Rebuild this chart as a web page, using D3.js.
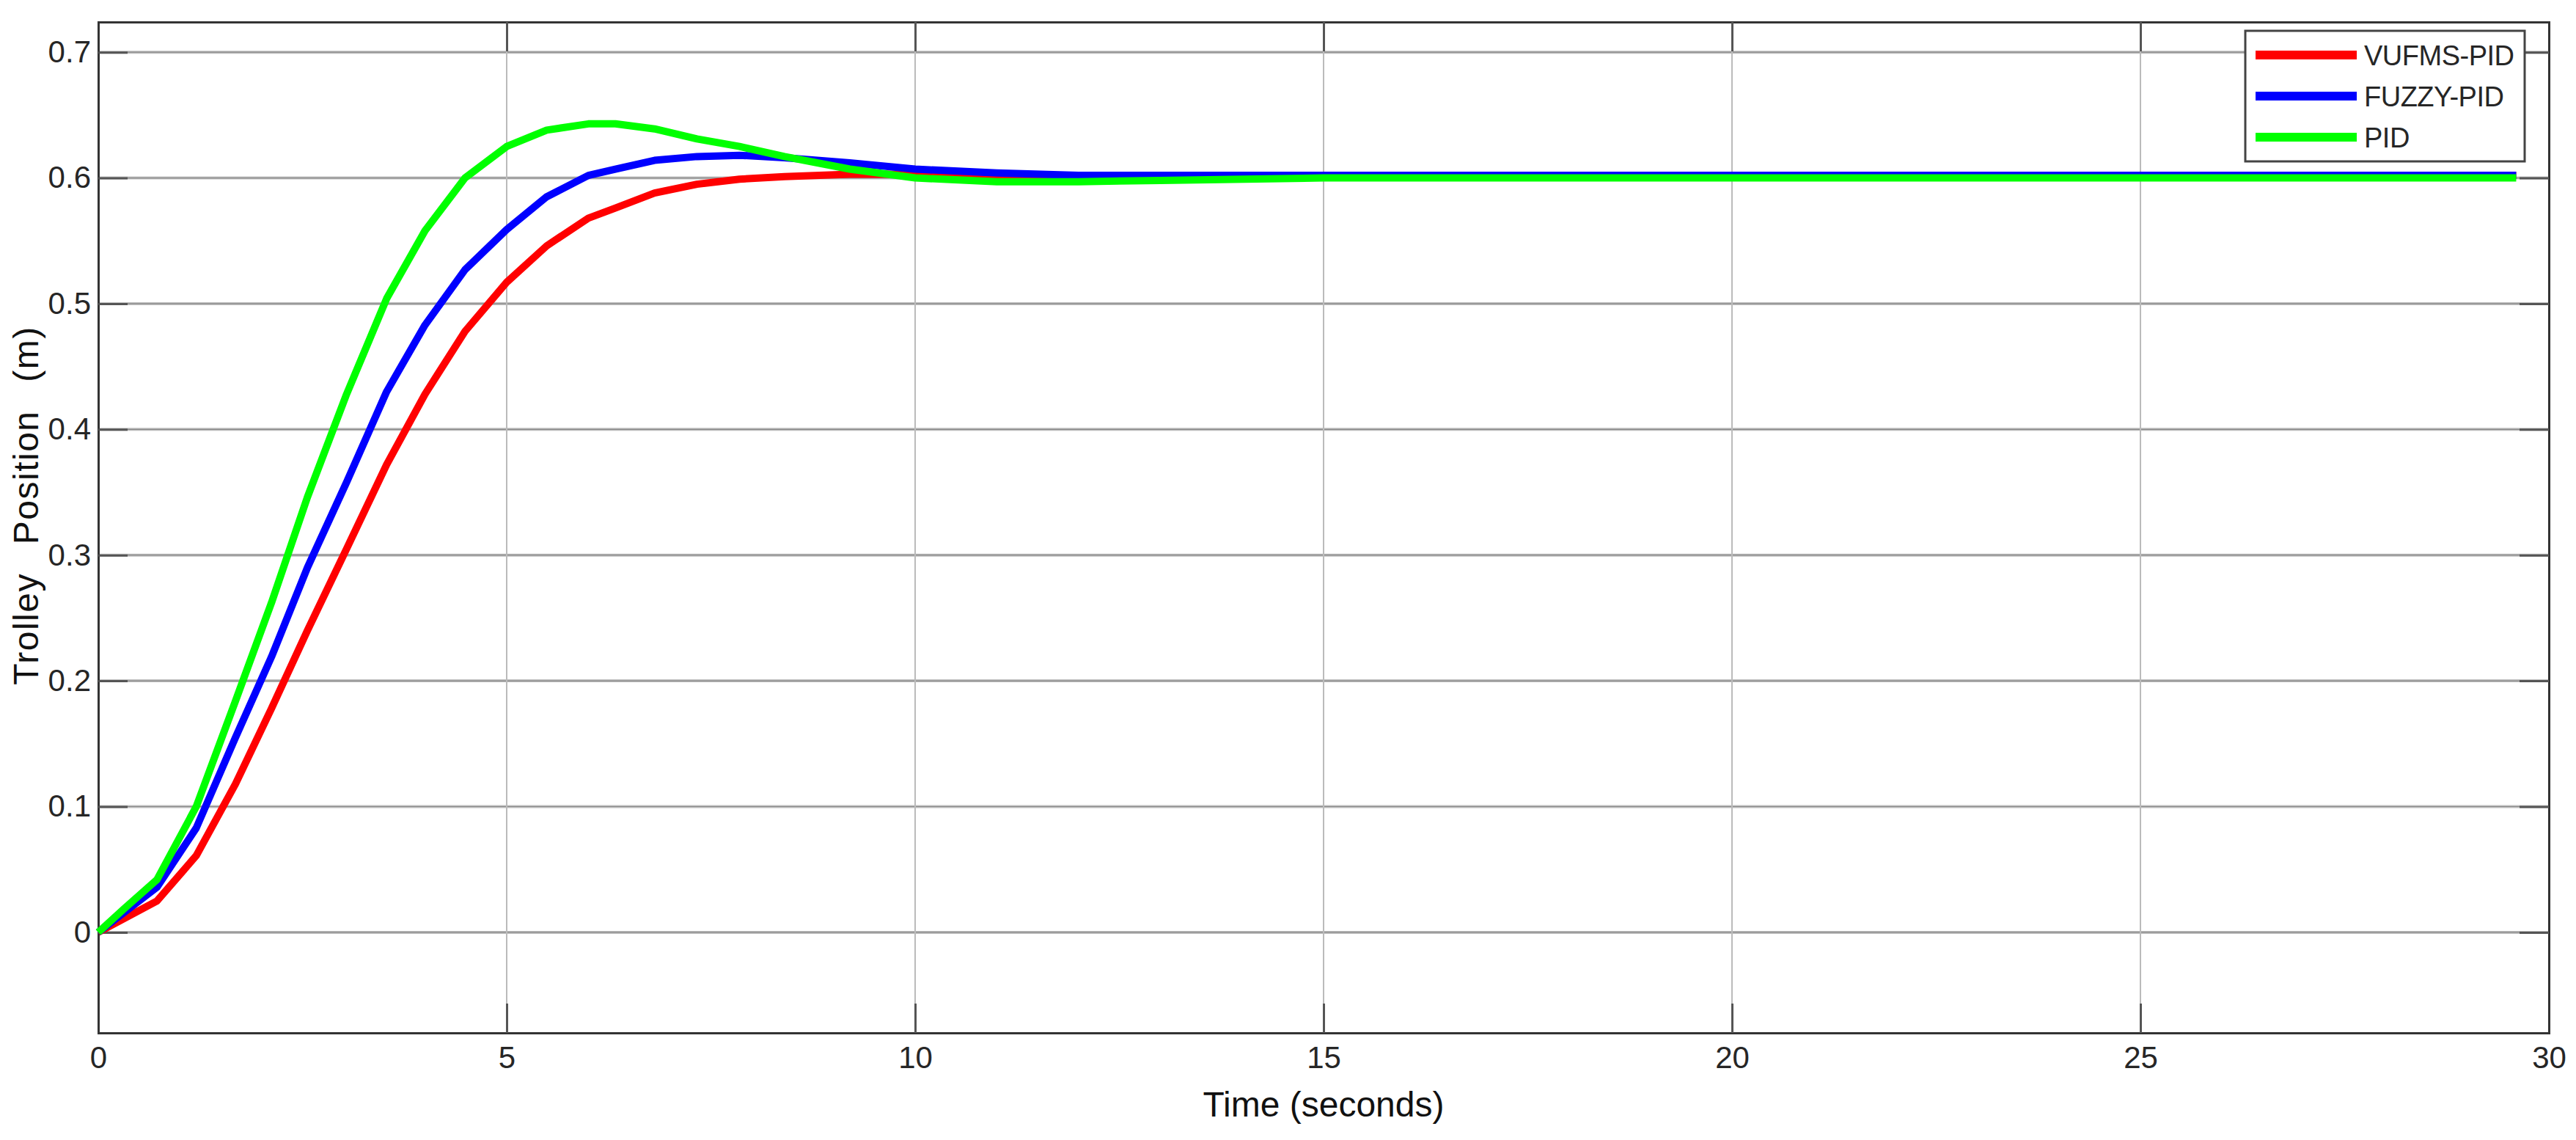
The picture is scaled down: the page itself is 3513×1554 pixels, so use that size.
<!DOCTYPE html>
<html><head><meta charset="utf-8">
<script src="https://d3js.org/d3.v7.min.js"></script>
<style>body{margin:0;background:#fff}</style></head>
<body><svg id="c" width="3513" height="1554"></svg>
<script>
const seriesNames = ["VUFMS-PID","FUZZY-PID","PID"];
const seriesColors = ["#ff0000","#0000ff","#00ff00"];
const tRed = [0,0.72,1.2,1.68,2.12,2.56,3.04,3.53,4.0,4.49,5.0,5.49,6.0,6.33,6.81,7.33,7.85,8.4,9.2,10,11,12,15,20,25,29.6];
const yRed = [0,0.025,0.061,0.118,0.178,0.24,0.305,0.372,0.428,0.478,0.517,0.546,0.568,0.576,0.588,0.595,0.599,0.601,0.603,0.603,0.602,0.602,0.602,0.602,0.602,0.602];
const tBlue = [0,0.72,1.2,1.68,2.12,2.56,3.04,3.53,4.0,4.49,5.0,5.49,6.0,6.33,6.81,7.33,7.85,8.4,9.2,10,11,12,13,15,20,25,29.6];
const yBlue = [0,0.036,0.083,0.155,0.219,0.29,0.358,0.43,0.483,0.527,0.559,0.585,0.602,0.607,0.614,0.617,0.618,0.616,0.612,0.607,0.604,0.602,0.602,0.602,0.602,0.602,0.602];
const tGreen = [0,0.32,0.72,1.2,1.68,2.12,2.56,3.04,3.53,4.0,4.49,5.0,5.49,6.0,6.33,6.81,7.33,7.85,8.4,9.2,10,11,12,13,15,20,25,29.6];
const yGreen = [0,0.019,0.042,0.100,0.184,0.262,0.346,0.428,0.504,0.558,0.600,0.625,0.638,0.643,0.643,0.639,0.631,0.625,0.617,0.607,0.600,0.597,0.597,0.598,0.600,0.600,0.600,0.600];
const xTicks = [0,5,10,15,20,25,30];
const yTicks = [0,0.1,0.2,0.3,0.4,0.5,0.6,0.7];

const svg = d3.select("#c");
const L=134,R=3476,T=30,B=1408;
const x = d3.scaleLinear().domain([0,30]).range([L,R]);
const y = d3.scaleLinear().domain([-0.08,0.724]).range([B,T]);
const font = "Arial, 'Liberation Sans', sans-serif";

svg.append("g").selectAll("line").data(yTicks).join("line")
  .attr("x1",L).attr("x2",R).attr("y1",d=>y(d)).attr("y2",d=>y(d))
  .attr("stroke","#bdbdbd").attr("stroke-width",4);
svg.append("g").selectAll("line").data(yTicks).join("line")
  .attr("x1",L).attr("x2",R).attr("y1",d=>y(d)).attr("y2",d=>y(d))
  .attr("stroke","#888").attr("stroke-width",1.2);
svg.append("g").selectAll("line").data(xTicks.slice(1,-1)).join("line")
  .attr("x1",d=>x(d)).attr("x2",d=>x(d)).attr("y1",T).attr("y2",B)
  .attr("stroke","#bbb").attr("stroke-width",2);

const xa = svg.append("g").attr("transform",`translate(0,${B})`)
  .call(d3.axisBottom(x).tickValues(xTicks).tickSize(-40).tickPadding(18).tickFormat(d3.format("d")));
const xt = svg.append("g").attr("transform",`translate(0,${T})`)
  .call(d3.axisTop(x).tickValues(xTicks).tickSize(-40).tickFormat(""));
const ya = svg.append("g").attr("transform",`translate(${L},0)`)
  .call(d3.axisLeft(y).tickValues(yTicks).tickSize(-40).tickPadding(10).tickFormat(d=>d===0?"0":d3.format(".1f")(d)));
const yr = svg.append("g").attr("transform",`translate(${R},0)`)
  .call(d3.axisRight(y).tickValues(yTicks).tickSize(-40).tickFormat(""));
[xa,xt,ya,yr].forEach(g=>{
  g.select(".domain").attr("stroke","#333").attr("stroke-width",3);
  g.selectAll(".tick line").attr("stroke","#555").attr("stroke-width",3);
  g.selectAll("text").attr("font-family",font).attr("font-size",42).attr("fill","#262626");
});

const line = d3.line().x(d=>x(d[0])).y(d=>y(d[1]));
const data = [d3.zip(tRed,yRed), d3.zip(tBlue,yBlue), d3.zip(tGreen,yGreen)];
data.forEach((d,i)=>{
  svg.append("path").datum(d).attr("d",line).attr("fill","none")
    .attr("stroke",seriesColors[i]).attr("stroke-width",10).attr("stroke-linejoin","round");
});

const lg = svg.append("g");
lg.append("rect").attr("x",3062).attr("y",42).attr("width",381).attr("height",178)
  .attr("fill","#fff").attr("stroke","#444").attr("stroke-width",3);
seriesNames.forEach((n,i)=>{
  const cy = 75+i*56;
  lg.append("line").attr("x1",3076).attr("x2",3214).attr("y1",cy).attr("y2",cy)
    .attr("stroke",seriesColors[i]).attr("stroke-width",12);
  lg.append("text").attr("x",3224).attr("y",cy+14).text(n)
    .attr("font-family",font).attr("font-size",38).attr("letter-spacing",-0.5).attr("fill","#262626");
});

svg.append("text").attr("x",(L+R)/2).attr("y",1522).attr("text-anchor","middle")
  .attr("font-family",font).attr("font-size",48).attr("fill","#111").text("Time (seconds)");
svg.append("text").attr("transform",`translate(52,${(T+B)/2-30}) rotate(-90)`).attr("text-anchor","middle")
  .attr("font-family",font).attr("font-size",48).attr("fill","#111").attr("word-spacing",24).attr("letter-spacing",1.5)
  .text("Trolley Position (m)");
</script></body></html>
